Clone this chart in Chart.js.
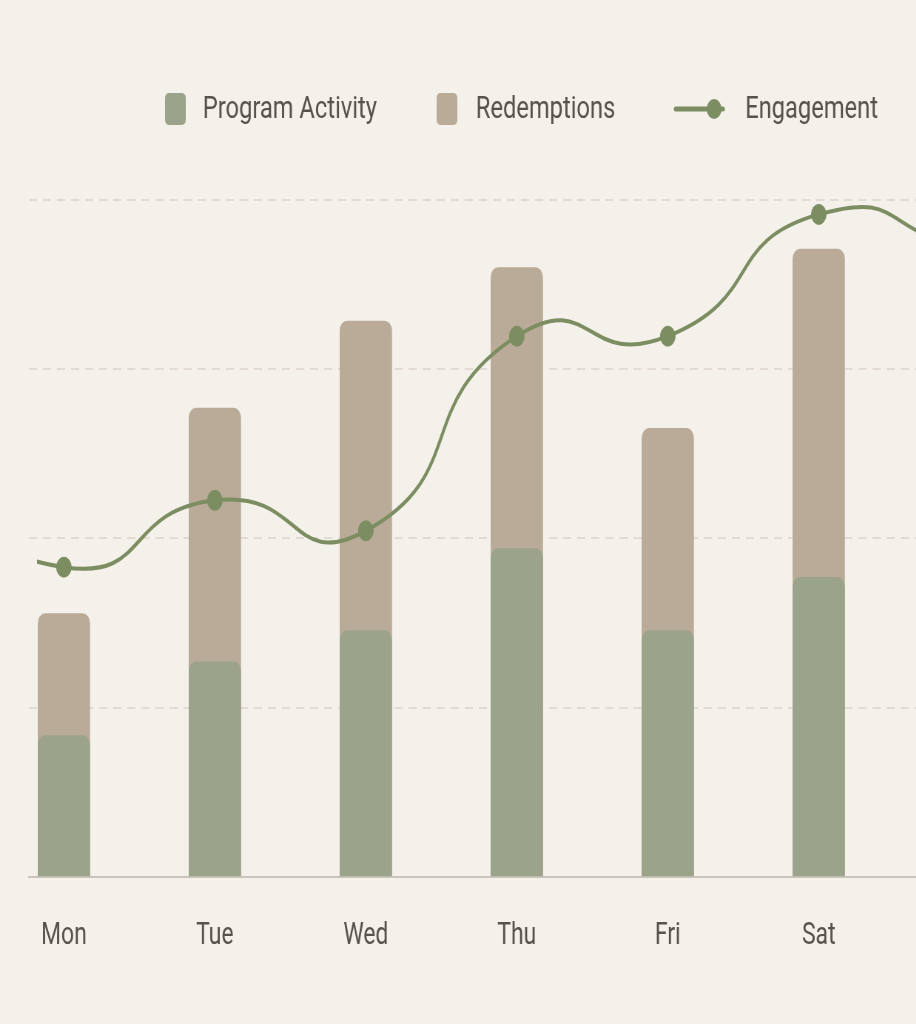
<!DOCTYPE html>
<html>
<head>
<meta charset="utf-8">
<title>Weekly program chart</title>
<script src="https://cdn.jsdelivr.net/npm/chart.js@4.4.1/dist/chart.umd.min.js"></script>
<style>
  html, body { margin: 0; padding: 0; background: #f4f0ea; overflow: hidden; }
  /* the picture is squeezed sideways, so the chart is drawn wide and scaled */
  #wrap { width: 1238px; height: 1024px; transform: scaleX(0.74); transform-origin: 0 0; }
</style>
</head>
<body>
<div id="wrap"><canvas id="myChart" width="1238" height="1024"></canvas></div>
<script>
var days = ['Mon', 'Tue', 'Wed', 'Thu', 'Fri', 'Sat'];
var programActivity = [16.7, 25.4, 29.1, 38.8, 29.1, 35.4];
var redemptions = [14.4, 30.0, 36.6, 33.2, 23.9, 38.8];
var engagement = [36.6, 44.5, 40.9, 63.9, 63.9, 78.3];
// the line comes in from the day before Mon and runs out to Sun
var engagementBefore = 50;
var engagementAfter = 74;
var yTicks = [0, 20, 40, 60, 80];

var green = '#9ca38b';
var tan = '#b9ab97';
var lineColor = '#7b8d61';
var textColor = '#57524c';

var activityPoints = [];
var totalPoints = [];
var linePoints = [{x: -1, y: engagementBefore}];
var lineRadius = [0];
for (var i = 0; i < days.length; i++) {
    activityPoints.push({x: i, y: programActivity[i]});
    // redemptions sit on top of the activity, drawn as one bar behind it
    totalPoints.push({x: i, y: programActivity[i] + redemptions[i]});
    linePoints.push({x: i, y: engagement[i]});
    lineRadius.push(10);
}
linePoints.push({x: days.length, y: engagementAfter});
lineRadius.push(0);

var datasets = [
    {
        type: 'bar',
        label: 'Program Activity',
        data: activityPoints,
        backgroundColor: green,
        borderRadius: {topLeft: 10, topRight: 10},
        barThickness: 70,
        grouped: false,
        order: 2
    },
    {
        type: 'bar',
        label: 'Redemptions',
        data: totalPoints,
        backgroundColor: tan,
        borderRadius: {topLeft: 10, topRight: 10},
        barThickness: 70,
        grouped: false,
        order: 3
    },
    {
        type: 'line',
        label: 'Engagement',
        data: linePoints,
        borderColor: lineColor,
        backgroundColor: lineColor,
        borderWidth: 4,
        tension: 0.6,
        capBezierPoints: false,
        pointRadius: lineRadius,
        pointBorderWidth: 1,
        pointBorderColor: lineColor,
        pointBackgroundColor: lineColor,
        clip: {left: -11, top: false, right: 0, bottom: 0},
        order: 1
    }
];

// legend drawn by hand so the marks can sit where the picture has them
var legendMarks = [223, 590, 913];
var legendTexts = [274, 643, 1007];
var legendY = 109;

var paperLegend = {
    id: 'paperLegend',
    afterDraw: function (chart) {
        var ctx = chart.ctx;
        ctx.save();
        chart.data.datasets.forEach(function (ds, i) {
            var x = legendMarks[i];
            if (ds.type === 'line') {
                ctx.strokeStyle = ds.borderColor;
                ctx.lineWidth = 5;
                ctx.lineCap = 'round';
                ctx.beginPath();
                ctx.moveTo(x, legendY);
                ctx.lineTo(x + 64, legendY);
                ctx.stroke();
                ctx.fillStyle = ds.borderColor;
                ctx.beginPath();
                ctx.arc(x + 52, legendY, 10, 0, Math.PI * 2);
                ctx.fill();
            } else {
                ctx.fillStyle = ds.backgroundColor;
                ctx.beginPath();
                ctx.roundRect(x, legendY - 16, 28, 32, 5);
                ctx.fill();
            }
            ctx.fillStyle = textColor;
            ctx.font = '32px Roboto';
            ctx.textBaseline = 'middle';
            ctx.fillText(ds.label, legendTexts[i], legendY + 1);
        });
        ctx.restore();
    }
};

var ctx = document.getElementById('myChart');
var myChart = new Chart(ctx, {
    type: 'bar',
    data: { datasets: datasets },
    plugins: [paperLegend],
    options: {
        responsive: false,
        animation: false,
        layout: { padding: { left: 39, right: 0, top: 200, bottom: 28 } },
        plugins: {
            legend: { display: false },
            tooltip: { enabled: false }
        },
        scales: {
            x: {
                type: 'linear',
                offset: false,
                min: -0.232,
                max: 5.645,
                grid: { display: false, drawTicks: false },
                border: { display: true, color: '#cac4bc', width: 2 },
                afterBuildTicks: function (scale) {
                    scale.ticks = days.map(function (d, i) { return {value: i}; });
                },
                ticks: {
                    autoSkip: false,
                    maxRotation: 0,
                    padding: 41,
                    color: textColor,
                    font: { family: 'Roboto', size: 31 },
                    callback: function (value) { return days[value]; }
                }
            },
            y: {
                min: yTicks[0],
                max: yTicks[yTicks.length - 1],
                afterBuildTicks: function (scale) {
                    scale.ticks = yTicks.map(function (v) { return {value: v}; });
                },
                ticks: { display: false },
                border: { display: false, dash: [11, 8] },
                grid: {
                    drawTicks: false,
                    lineWidth: 2,
                    color: function (c) {
                        return c.tick && c.tick.value === 0 ? 'rgba(0,0,0,0)' : '#e2dbd3';
                    }
                }
            }
        }
    }
});
</script>
</body>
</html>
